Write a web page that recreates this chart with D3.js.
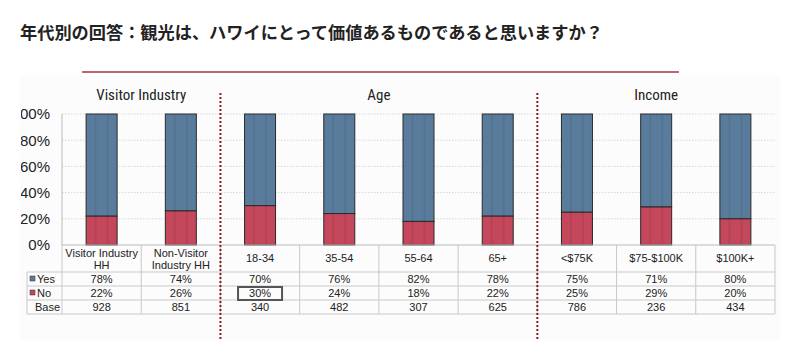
<!DOCTYPE html>
<html><head><meta charset="utf-8">
<script src="https://cdn.jsdelivr.net/npm/d3@7"></script>
<style>body{margin:0;background:#fff;}svg{display:block;}</style>
</head><body>
<svg id="c" width="800" height="359"></svg>
<script>
const title = "年代別の回答：観光は、ハワイにとって価値あるものであると思いますか？";
const categories = ["Visitor Industry HH","Non-Visitor Industry HH","18-34","35-54","55-64","65+","<$75K","$75-$100K","$100K+"];
const catLines = [["Visitor Industry","HH"],["Non-Visitor","Industry HH"],["18-34"],["35-54"],["55-64"],["65+"],["<$75K"],["$75-$100K"],["$100K+"]];
const yesValues = [78,74,70,76,82,78,75,71,80];
const noValues = [22,26,30,24,18,22,25,29,20];
const baseValues = [928,851,340,482,307,625,786,236,434];
const groups = [{name:"Visitor Industry", from:0, to:1},{name:"Age", from:2, to:5},{name:"Income", from:6, to:8}];
const yTicks = [0,20,40,60,80,100];
const highlight = {row:"No", index:2};

const blue = "#5a7c9c", red = "#c4475b";
const svg = d3.select("#c");

// faint background
svg.append("rect").attr("x",20).attr("y",75).attr("width",760).attr("height",265).attr("fill","#fcfcfc");

svg.append("text").attr("x",20).attr("y",39).attr("font-family","Noto Sans CJK JP").attr("font-size",17.2).attr("font-weight",700).attr("fill","#222").text(title);

svg.append("line").attr("x1",82).attr("x2",679).attr("y1",72).attr("y2",72).attr("stroke","#a8323f").attr("stroke-width",1.5);

const x = d3.scaleBand().domain(categories).range([62,775]).paddingInner(0).paddingOuter(0);
const y = d3.scaleLinear().domain([0,100]).range([245,114]);

// clip for y labels (hide the leading "1" of 100% as in the reference crop)
svg.append("clipPath").attr("id","yc").append("rect").attr("x",21).attr("y",0).attr("width",60).attr("height",359);

// gridlines
svg.append("g").selectAll("line").data(yTicks.filter(d=>d>0)).join("line")
  .attr("x1",62).attr("x2",775).attr("y1",d=>y(d)).attr("y2",d=>y(d))
  .attr("stroke","#d8d8d8").attr("stroke-dasharray","1.5,1.5");

const yAxis = d3.axisLeft(y).tickValues(yTicks).tickFormat(d=>d+"%").tickSize(0).tickPadding(12);
const yWrap = svg.append("g").attr("clip-path","url(#yc)");
const ya = yWrap.append("g").attr("transform","translate(62,0)").call(yAxis);
ya.select(".domain").remove();
ya.selectAll("text").attr("font-family","Liberation Sans, Arial").attr("font-size",15).attr("fill","#222").attr("x",-12);

// axis left line
svg.append("line").attr("x1",62).attr("x2",62).attr("y1",114).attr("y2",245).attr("stroke","#bbb");

const bw = 31;
const bars = svg.append("g");
categories.forEach((c,i)=>{
  const cx = x(c)+x.bandwidth()/2;
  bars.append("rect").attr("x",cx-bw/2).attr("y",y(100)).attr("width",bw).attr("height",y(noValues[i])-y(100)).attr("fill",blue).attr("stroke","#2a2a2a").attr("stroke-width",1);
  bars.append("rect").attr("x",cx-bw/2).attr("y",y(noValues[i])).attr("width",bw).attr("height",y(0)-y(noValues[i])).attr("fill",red).attr("stroke","#2a2a2a").attr("stroke-width",1);
  [-6,6].forEach(o=>{
    bars.append("line").attr("x1",cx+o).attr("x2",cx+o).attr("y1",y(100)+1).attr("y2",y(0)-1).attr("stroke","#000").attr("stroke-opacity",0.07).attr("stroke-width",2);
  });
});

// group headers
groups.forEach(g=>{
  const x0 = x(categories[g.from]), x1 = x(categories[g.to])+x.bandwidth();
  svg.append("text").attr("x",(x0+x1)/2).attr("y",100).attr("text-anchor","middle")
    .attr("font-family","Liberation Sans Narrow, Roboto Condensed, Liberation Sans").attr("font-size",15).attr("fill","#222").text(g.name);
});

// table
const tbl = svg.append("g");
const lc = "#c8c8c8";
tbl.append("line").attr("x1",62).attr("x2",775).attr("y1",245).attr("y2",245).attr("stroke","#bbb");
[272,286,300,314].forEach(yy=>tbl.append("line").attr("x1",27).attr("x2",775).attr("y1",yy).attr("y2",yy).attr("stroke",lc));
tbl.append("line").attr("x1",27).attr("x2",27).attr("y1",272).attr("y2",314).attr("stroke",lc);
categories.forEach(c=>tbl.append("line").attr("x1",x(c)).attr("x2",x(c)).attr("y1",245).attr("y2",314).attr("stroke",lc));
tbl.append("line").attr("x1",775).attr("x2",775).attr("y1",245).attr("y2",314).attr("stroke",lc);

const tf = "Liberation Sans, Arial";
categories.forEach((c,i)=>{
  const cx = x(c)+x.bandwidth()/2;
  const lines = catLines[i];
  lines.forEach((l,k)=>{
    const yy = lines.length===1 ? 262 : 257 + k*12;
    tbl.append("text").attr("x",cx).attr("y",yy).attr("text-anchor","middle").attr("font-family",tf).attr("font-size",11).attr("fill","#222").text(l);
  });
  tbl.append("text").attr("x",cx).attr("y",283).attr("text-anchor","middle").attr("font-family",tf).attr("font-size",11).attr("fill","#222").text(yesValues[i]+"%");
  tbl.append("text").attr("x",cx).attr("y",297).attr("text-anchor","middle").attr("font-family",tf).attr("font-size",11).attr("fill","#222").text(noValues[i]+"%");
  tbl.append("text").attr("x",cx).attr("y",311).attr("text-anchor","middle").attr("font-family",tf).attr("font-size",11).attr("fill","#222").text(baseValues[i]);
});
tbl.append("rect").attr("x",30).attr("y",276).attr("width",5).attr("height",5).attr("fill",blue).attr("stroke","#333").attr("stroke-width",0.5);
tbl.append("text").attr("x",37).attr("y",283).attr("font-family",tf).attr("font-size",11).attr("fill","#222").text("Yes");
tbl.append("rect").attr("x",30).attr("y",290).attr("width",5).attr("height",5).attr("fill",red).attr("stroke","#333").attr("stroke-width",0.5);
tbl.append("text").attr("x",37).attr("y",297).attr("font-family",tf).attr("font-size",11).attr("fill","#222").text("No");
tbl.append("text").attr("x",60).attr("y",311).attr("text-anchor","end").attr("font-family",tf).attr("font-size",11).attr("fill","#222").text("Base");

// highlight box
const hc = x(categories[highlight.index])+x.bandwidth()/2;
tbl.append("rect").attr("x",hc-22).attr("y",287).attr("width",44).attr("height",13).attr("fill","none").attr("stroke","#555").attr("stroke-width",2);

// dividers
[1,5].forEach(i=>{
  const xx = x(categories[i])+x.bandwidth();
  svg.append("line").attr("x1",xx).attr("x2",xx).attr("y1",93).attr("y2",339).attr("stroke","#8b1a24").attr("stroke-width",2).attr("stroke-dasharray","2,2");
});
</script>
</body></html>
